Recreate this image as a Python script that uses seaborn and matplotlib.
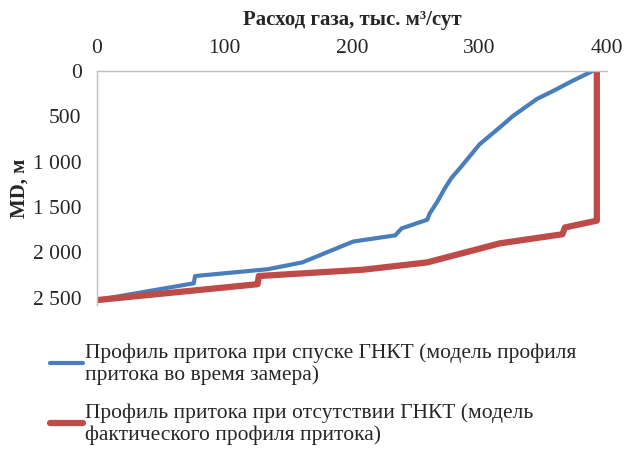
import matplotlib
matplotlib.use("Agg")
import matplotlib.pyplot as plt
import seaborn as sns
import pandas as pd

# Профиль притока при спуске ГНКТ
gas_ctu = [0, 76, 77, 134, 161, 168, 201, 234, 236, 239, 259, 261, 267, 273, 278, 286, 300, 317, 326, 345, 358, 373, 389]
md_ctu = [2525, 2340, 2260, 2185, 2110, 2070, 1880, 1812, 1780, 1735, 1640, 1570, 1440, 1290, 1180, 1050, 810, 610, 500, 310, 220, 110, 0]

# Профиль притока при отсутствии ГНКТ
gas_no_ctu = [0, 126, 127, 209, 259, 316, 365, 367, 392, 392]
md_no_ctu = [2525, 2350, 2260, 2190, 2110, 1900, 1800, 1725, 1650, 0]

label_ctu = "Профиль притока при спуске ГНКТ (модель профиля\nпритока во время замера)"
label_no_ctu = "Профиль притока при отсутствии ГНКТ (модель\nфактического профиля притока)"

x_ticks = [0, 100, 200, 300, 400]
y_ticks = [0, 500, 1000, 1500, 2000, 2500]
y_tick_labels = ["0", "500", "1 000", "1 500", "2 000", "2 500"]

sns.set_style("white")
plt.rcParams["font.family"] = ["Liberation Serif", "DejaVu Serif"]
plt.rcParams["font.size"] = 15

df1 = pd.DataFrame({"gas": gas_ctu, "md": md_ctu})
df2 = pd.DataFrame({"gas": gas_no_ctu, "md": md_no_ctu})

fig = plt.figure(figsize=(6.33, 4.54), dpi=100)
ax = fig.add_axes([0.153, 0.328, 0.806, 0.516])

sns.lineplot(data=df1, x="gas", y="md", sort=False, estimator=None, color="#4a7ebb",
             linewidth=3, label=label_ctu, ax=ax)
sns.lineplot(data=df2, x="gas", y="md", sort=False, estimator=None, color="#be4b48",
             linewidth=4.5, label=label_no_ctu, ax=ax)

ax.set_xlim(0, 400)
ax.set_ylim(2580, 0)
ax.xaxis.tick_top()
ax.xaxis.set_label_position("top")
ax.set_xticks(x_ticks)
ax.set_yticks(y_ticks)
ax.set_yticklabels(y_tick_labels)
ax.tick_params(axis="x", length=0, labelsize=15.5, pad=9.5)
ax.tick_params(axis="y", length=0, labelsize=15.5, pad=11)

ax.set_xlabel("Расход газа, тыс. м³/сут", fontsize=15, fontweight="bold", labelpad=10)
ax.set_ylabel("MD, м", fontsize=15, fontweight="bold", labelpad=2)

for side in ["right", "bottom"]:
    ax.spines[side].set_visible(False)
for side in ["left", "top"]:
    ax.spines[side].set_color("#bfbfbf")
    ax.spines[side].set_linewidth(1)

leg = ax.legend(loc="upper left", bbox_to_anchor=(-0.108, -0.125), frameon=False, fontsize=15.5,
                handlelength=1.53, handletextpad=0.1, labelspacing=0.85, borderaxespad=0)
for t in leg.get_texts():
    t.set_linespacing(1.15)

fig.savefig("out.png", dpi=100)
